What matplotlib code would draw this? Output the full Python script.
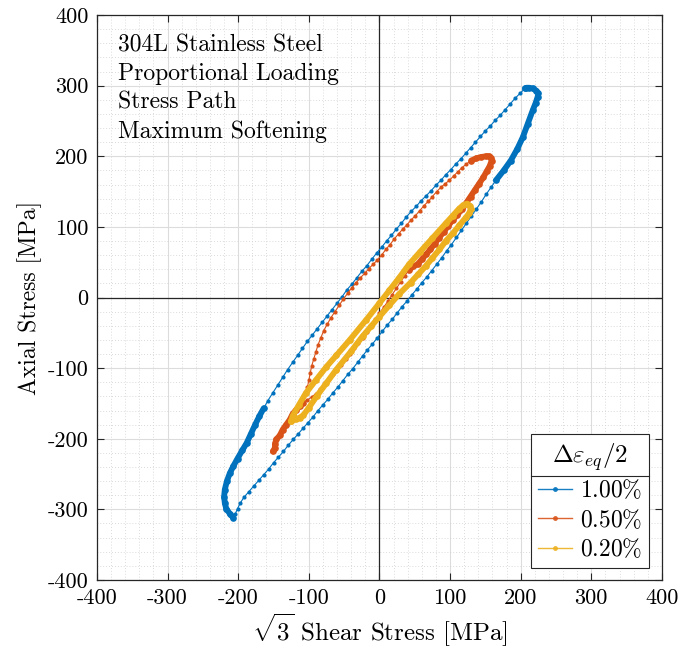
import matplotlib
matplotlib.use("Agg")
import matplotlib.pyplot as plt
from matplotlib.lines import Line2D

plt.rcParams['font.family'] = 'serif'
plt.rcParams['font.serif'] = ['cmr10']
plt.rcParams['mathtext.fontset'] = 'cm'
plt.rcParams['axes.unicode_minus'] = False
plt.rcParams['axes.formatter.use_mathtext'] = True

# ---- data (MPa) ----
# 1.00% loop
blue_up_x = [-164, -158, -151, -144, -137, -130, -123, -116, -109, -102, -95, -88, -81, -74, -67, -60,
             -53, -46, -39, -32, -25, -18, -11, -4, 3, 10, 17, 24, 31, 38, 45, 52, 59, 66, 73, 80,
             87, 94, 101, 108, 115, 122, 129, 136, 143, 150, 157, 164, 171, 178, 185, 192, 199, 206]
blue_up_y = [-157, -146, -135, -124, -113, -102, -92, -82, -72, -62, -53, -44, -35, -26, -17, -8,
             1, 11, 19, 28, 37, 45, 54, 63, 71, 80, 88, 97, 105, 114, 122, 129, 137, 144, 151, 159,
             166, 174, 181, 189, 196, 204, 212, 220, 228, 236, 243, 251, 258, 266, 274, 282, 289, 296]
blue_top_x = [206, 208, 212, 217, 222, 225, 224, 221, 217, 210, 203, 195, 186, 176, 165]
blue_top_y = [296, 297, 297, 296, 293, 289, 284, 275, 265, 246, 227, 210, 194, 180, 166]
blue_down_x = [165, 158, 151, 144, 137, 130, 123, 116, 109, 102, 95, 88, 81, 74, 67, 60, 53, 46, 39,
               32, 25, 18, 11, 4, -3, -10, -17, -24, -31, -38, -45, -52, -59, -66, -73, -80, -87,
               -94, -101, -108, -115, -122, -129, -136, -143, -150, -157, -164, -171, -178, -185,
               -192, -197, -201, -204, -207]
blue_down_y = [166, 156, 146, 135, 125, 115, 105, 95, 85, 75, 66, 56, 47, 38, 29, 21, 12, 4, -5,
               -13, -22, -31, -39, -48, -57, -66, -74, -83, -92, -101, -109, -118, -127, -135, -144,
               -152, -160, -169, -177, -185, -193, -201, -209, -218, -226, -234, -243, -251, -259,
               -267, -275, -283, -291, -299, -306, -312]
blue_bot_x = [-207, -212, -217, -219, -220, -219, -216, -212, -207, -201, -194, -188, -182, -176, -170, -164]
blue_bot_y = [-312, -306, -299, -291, -282, -272, -260, -249, -239, -228, -216, -206, -193, -180, -168, -157]

# 0.50% loop
orange_up_x = [-108, -105, -102, -100, -98, -96, -93, -90, -87, -83, -79, -74, -69, -63, -57, -51,
               -45, -39, -33, -27, -21, -15, -9, -3, 3, 9, 15, 21, 27, 33, 39, 45, 51, 57, 63, 69,
               75, 81, 87, 93, 99, 105, 111, 117, 123, 130, 137, 144, 151]
orange_up_y = [-147, -137, -127, -117, -107, -97, -87, -77, -67, -57, -47, -38, -29, -20, -11, -2,
               6, 14, 21, 28, 34, 41, 47, 53, 60, 68, 75, 83, 90, 97, 103, 110, 116, 123, 130, 136,
               143, 150, 156, 161, 166, 172, 178, 184, 189, 194, 197, 199, 200]
orange_top_x = [130, 137, 144, 151, 155, 158, 159, 156, 152, 147, 141, 135, 129, 123, 117, 110, 104,
                97, 91, 84, 78, 72, 66, 60, 54, 48, 42]
orange_top_y = [194, 197, 199, 200, 200, 198, 194, 186, 179, 170, 161, 152, 143, 134, 125, 117, 110,
                101, 93, 84, 76, 68, 61, 54, 47, 44, 39]
orange_down_x = [42, 36, 30, 24, 18, 12, 6, 0, -6, -12, -18, -24, -30, -36, -42, -48, -54, -60, -66,
                 -72, -78, -84, -90, -96, -102, -108]
orange_down_y = [39, 31, 22, 13, 4, -5, -14, -22, -31, -40, -49, -57, -65, -72, -80, -87, -95, -102,
                 -109, -116, -123, -130, -136, -141, -145, -149]
orange_bot_x = [-108, -113, -118, -123, -127, -132, -137, -141, -146, -148, -148, -151]
orange_bot_y = [-149, -154, -159, -165, -173, -180, -187, -195, -201, -207, -213, -218]

# 0.20% loop
yellow_x = [-125, -123, -114, -104, -90, -75, -61, -42, -19, 0, 14, 28, 42, 57, 75, 94, 104, 113, 119,
            124, 128, 129, 127, 123, 113, 104, 94, 85, 75, 66, 55, 44, 28, 14, 0, -12, -24, -40, -61,
            -75, -89, -100, -108, -113, -118, -125]
yellow_y = [-175, -168, -152, -135, -117, -98, -82, -60, -32, -8, 10, 28, 47, 64, 84, 105, 116, 126, 131,
            133, 130, 125, 119, 114, 102, 91, 80, 68, 56, 45, 33, 21, 5, -11, -27, -41, -55, -76, -102,
            -121, -140, -156, -167, -170, -172, -175]

labels = ['1.00%', '0.50%', '0.20%']
ticks = [-400, -300, -200, -100, 0, 100, 200, 300, 400]
text_lines = ['304L Stainless Steel', 'Proportional Loading', 'Stress Path', 'Maximum Softening']

c_blue = '#0072BD'
c_orange = '#D95319'
c_yellow = '#EDB120'

fig = plt.figure(figsize=(6.81, 6.53), dpi=100)
ax = fig.add_axes([0.1424, 0.1118, 0.8296, 0.8652])

thin = dict(lw=0.8, marker='o', ms=3.0, mew=0)
thick = dict(lw=4.2, marker='o', ms=4.8, mew=0, solid_capstyle='round', solid_joinstyle='round')

ax.plot(blue_up_x, blue_up_y, color=c_blue, **thin)
ax.plot(blue_top_x, blue_top_y, color=c_blue, **thick)
ax.plot(blue_down_x, blue_down_y, color=c_blue, **thin)
ax.plot(blue_bot_x, blue_bot_y, color=c_blue, **thick)

ax.plot(orange_up_x, orange_up_y, color=c_orange, **thin)
ax.plot(orange_top_x, orange_top_y, color=c_orange, **thick)
ax.plot(orange_down_x, orange_down_y, color=c_orange, **thin)
ax.plot(orange_bot_x, orange_bot_y, color=c_orange, **thick)

ax.plot(yellow_x, yellow_y, color=c_yellow, **thick)

ax.axhline(0, color='#262626', lw=0.9, zorder=1.5)
ax.axvline(0, color='#262626', lw=0.9, zorder=1.5)

ax.set_xlim(-400, 400)
ax.set_ylim(-400, 400)
ax.set_xticks(ticks)
ax.set_yticks(ticks)
ax.set_xticklabels([str(t) for t in ticks])
ax.set_yticklabels([str(t) for t in ticks])
ax.set_xticks(range(-400, 401, 20), minor=True)
ax.set_yticks(range(-400, 401, 20), minor=True)
ax.tick_params(which='major', direction='in', length=5, width=0.8, top=True, right=True,
               labelsize=16, pad=6, color='#262626')
ax.tick_params(which='minor', length=0)
ax.grid(which='major', color='#DCDCDC', lw=0.8)
ax.grid(which='minor', color='#CFCFCF', lw=0.6, ls=(0, (1, 2.5)))
ax.set_axisbelow(True)
for s in ax.spines.values():
    s.set_color('#262626')
    s.set_linewidth(0.9)

ax.set_xlabel(r'$\sqrt{3}$ Shear Stress [MPa]', fontsize=18, labelpad=3)
ax.set_ylabel('Axial Stress [MPa]', fontsize=17, labelpad=4)

ax.text(0.037, 0.966, '\n'.join(text_lines), transform=ax.transAxes, fontsize=17,
        va='top', ha='left', linespacing=1.38)

handles = [Line2D([], [], color=c, lw=1.0, marker='o', ms=3.5, mew=0, alpha=0.9)
           for c in (c_blue, c_orange, c_yellow)]
leg = ax.legend(handles, [l.replace('%', r'\%') for l in [f'${l}$' for l in labels]],
                title=r'$\Delta\varepsilon_{eq}/2$', loc='lower right',
                bbox_to_anchor=(0.977, 0.021), borderaxespad=0, fontsize=17, title_fontsize=18,
                frameon=True, fancybox=False, edgecolor='#262626', framealpha=1,
                handlelength=1.45, handletextpad=0.3, labelspacing=0.24, borderpad=0.3)
leg.get_frame().set_linewidth(0.8)

fig.canvas.draw()
r = fig.canvas.get_renderer()
lb = leg.get_window_extent(r)
tb = leg.get_title().get_window_extent(r)
ysep = tb.y0 - 3
fig.add_artist(Line2D([lb.x0, lb.x1], [ysep, ysep], transform=None, color='#262626', lw=0.8))

fig.savefig('out.png', dpi=100)
